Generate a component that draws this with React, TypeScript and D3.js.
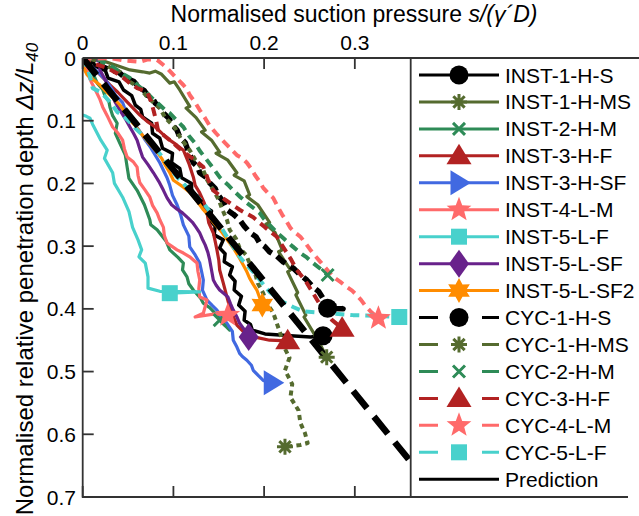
import React from "react";
import * as d3 from "d3";

type Pt = [number, number];

const xTicks = [0, 0.1, 0.2, 0.3];
const xTickLabels = ["0", "0.1", "0.2", "0.3"];
const yTicks = [0, 0.1, 0.2, 0.3, 0.4, 0.5, 0.6, 0.7];
const yTickLabels = ["0", "0.1", "0.2", "0.3", "0.4", "0.5", "0.6", "0.7"];

const inst1HS: Pt[] = [[0,0],[0.010,0.004],[0.014,0.013],[0.025,0.020],[0.028,0.032],[0.040,0.038],[0.045,0.051],[0.054,0.060],[0.058,0.075],[0.064,0.082],[0.066,0.094],[0.076,0.104],[0.077,0.120],[0.085,0.128],[0.088,0.144],[0.099,0.152],[0.098,0.167],[0.107,0.176],[0.109,0.191],[0.120,0.200],[0.120,0.214],[0.129,0.222],[0.131,0.234],[0.142,0.244],[0.140,0.258],[0.146,0.268],[0.145,0.282],[0.155,0.290],[0.151,0.303],[0.157,0.312],[0.156,0.325],[0.165,0.333],[0.162,0.346],[0.168,0.356],[0.167,0.370],[0.175,0.380],[0.172,0.394],[0.179,0.404],[0.178,0.418],[0.185,0.425],[0.187,0.434],[0.201,0.440],[0.229,0.443],[0.251,0.445],[0.265,0.443]];
const inst1HMS: Pt[] = [[0.006,0],[0.019,0.003],[0.036,0.011],[0.052,0.019],[0.066,0.022],[0.074,0.024],[0.080,0.021],[0.087,0.026],[0.096,0.040],[0.101,0.038],[0.107,0.051],[0.118,0.077],[0.114,0.080],[0.125,0.095],[0.135,0.115],[0.131,0.118],[0.142,0.131],[0.151,0.150],[0.147,0.152],[0.160,0.163],[0.170,0.183],[0.167,0.187],[0.178,0.196],[0.184,0.218],[0.181,0.221],[0.193,0.234],[0.206,0.262],[0.202,0.265],[0.212,0.278],[0.220,0.306],[0.216,0.309],[0.229,0.338],[0.226,0.341],[0.237,0.374],[0.235,0.378],[0.246,0.410],[0.244,0.413],[0.254,0.437],[0.258,0.448],[0.262,0.457],[0.269,0.477]];
const inst2HM: Pt[] = [[0,0],[0.005,0.010],[0.008,0.019],[0.013,0.030],[0.016,0.040],[0.022,0.050],[0.025,0.062],[0.029,0.070],[0.030,0.078],[0.033,0.092],[0.038,0.104],[0.036,0.120],[0.041,0.136],[0.047,0.155],[0.049,0.174],[0.051,0.192],[0.060,0.211],[0.068,0.234],[0.074,0.258],[0.075,0.266],[0.082,0.274],[0.092,0.292],[0.096,0.306],[0.105,0.318],[0.111,0.327],[0.110,0.338],[0.115,0.349],[0.117,0.360],[0.122,0.370],[0.130,0.383],[0.133,0.391],[0.140,0.398],[0.144,0.404],[0.150,0.414],[0.155,0.423],[0.162,0.434],[0.151,0.418]];
const inst3HF: Pt[] = [[0,0],[0.007,0.010],[0.014,0.019],[0.022,0.031],[0.030,0.043],[0.039,0.055],[0.047,0.067],[0.055,0.079],[0.063,0.091],[0.071,0.101],[0.080,0.110],[0.088,0.121],[0.096,0.131],[0.104,0.139],[0.111,0.147],[0.117,0.168],[0.122,0.190],[0.124,0.203],[0.129,0.215],[0.134,0.231],[0.137,0.247],[0.139,0.263],[0.144,0.279],[0.146,0.292],[0.148,0.306],[0.150,0.322],[0.151,0.338],[0.155,0.359],[0.159,0.381],[0.162,0.397],[0.166,0.412],[0.170,0.426],[0.179,0.439],[0.190,0.445],[0.206,0.450],[0.226,0.451]];
const inst3HSF: Pt[] = [[0,0],[0.007,0.010],[0.014,0.019],[0.020,0.027],[0.025,0.035],[0.031,0.047],[0.036,0.059],[0.044,0.071],[0.047,0.083],[0.053,0.095],[0.058,0.107],[0.064,0.119],[0.069,0.131],[0.075,0.143],[0.080,0.155],[0.085,0.167],[0.089,0.179],[0.093,0.191],[0.096,0.203],[0.099,0.219],[0.104,0.234],[0.108,0.250],[0.111,0.266],[0.117,0.284],[0.118,0.301],[0.124,0.314],[0.129,0.327],[0.131,0.340],[0.133,0.354],[0.132,0.370],[0.137,0.386],[0.143,0.395],[0.148,0.402],[0.152,0.411],[0.159,0.423],[0.165,0.436],[0.166,0.450],[0.170,0.461],[0.173,0.471],[0.176,0.476],[0.181,0.482],[0.186,0.490],[0.188,0.498],[0.194,0.507],[0.199,0.514],[0.209,0.518]];
const inst4LM: Pt[] = [[0,0],[0.004,0.016],[0.006,0.027],[0.010,0.040],[0.014,0.051],[0.019,0.066],[0.022,0.078],[0.028,0.095],[0.033,0.110],[0.039,0.120],[0.044,0.131],[0.046,0.145],[0.049,0.158],[0.056,0.166],[0.060,0.174],[0.061,0.187],[0.063,0.199],[0.069,0.211],[0.074,0.222],[0.077,0.235],[0.082,0.247],[0.085,0.258],[0.089,0.270],[0.090,0.283],[0.093,0.295],[0.098,0.300],[0.104,0.306],[0.111,0.311],[0.118,0.317],[0.122,0.322],[0.126,0.327],[0.127,0.340],[0.129,0.354],[0.128,0.368],[0.129,0.381],[0.137,0.386],[0.133,0.407],[0.124,0.413],[0.146,0.408],[0.160,0.410]];
const inst5LF: Pt[] = [[0,0.091],[0.004,0.093],[0.008,0.096],[0.011,0.106],[0.016,0.120],[0.020,0.131],[0.027,0.147],[0.024,0.160],[0.033,0.183],[0.035,0.200],[0.044,0.222],[0.051,0.245],[0.055,0.270],[0.061,0.290],[0.065,0.306],[0.062,0.317],[0.069,0.327],[0.072,0.349],[0.072,0.367],[0.085,0.372],[0.129,0.373],[0.096,0.375]];
const inst5LSF: Pt[] = [[0,0],[0.011,0],[0.019,0.006],[0.019,0.019],[0.025,0.035],[0.028,0.047],[0.032,0.059],[0.036,0.071],[0.041,0.083],[0.047,0.097],[0.052,0.110],[0.056,0.120],[0.060,0.131],[0.063,0.145],[0.066,0.158],[0.072,0.170],[0.078,0.183],[0.084,0.197],[0.089,0.211],[0.093,0.223],[0.098,0.234],[0.104,0.241],[0.110,0.247],[0.116,0.255],[0.121,0.262],[0.125,0.270],[0.129,0.279],[0.132,0.289],[0.135,0.298],[0.138,0.310],[0.140,0.322],[0.142,0.338],[0.144,0.354],[0.147,0.362],[0.151,0.370],[0.156,0.376],[0.160,0.381],[0.163,0.392],[0.166,0.402],[0.170,0.413],[0.173,0.423],[0.177,0.431],[0.181,0.439],[0.183,0.445]];
const inst5LSF2: Pt[] = [[0,0],[0.001,0.016],[0.005,0.027],[0.012,0.035],[0.019,0.043],[0.024,0.051],[0.030,0.059],[0.036,0.067],[0.041,0.075],[0.047,0.087],[0.052,0.099],[0.058,0.108],[0.063,0.118],[0.072,0.134],[0.082,0.150],[0.087,0.160],[0.091,0.171],[0.096,0.183],[0.100,0.195],[0.106,0.201],[0.111,0.206],[0.118,0.214],[0.126,0.228],[0.133,0.242],[0.139,0.252],[0.144,0.262],[0.149,0.270],[0.154,0.279],[0.160,0.291],[0.166,0.303],[0.172,0.317],[0.177,0.330],[0.181,0.341],[0.184,0.351],[0.188,0.361],[0.192,0.370],[0.195,0.382],[0.198,0.394]];
const cyc1HS: Pt[] = [[0,0],[0.007,0.005],[0.014,0.006],[0.022,0.014],[0.030,0.019],[0.040,0.023],[0.047,0.032],[0.056,0.037],[0.063,0.048],[0.068,0.052],[0.071,0.059],[0.077,0.064],[0.080,0.072],[0.086,0.079],[0.089,0.088],[0.095,0.096],[0.099,0.107],[0.104,0.115],[0.107,0.126],[0.113,0.135],[0.116,0.147],[0.119,0.157],[0.122,0.167],[0.127,0.174],[0.129,0.183],[0.136,0.190],[0.140,0.199],[0.146,0.208],[0.149,0.218],[0.155,0.229],[0.159,0.242],[0.166,0.249],[0.173,0.258],[0.178,0.268],[0.184,0.278],[0.191,0.285],[0.195,0.295],[0.201,0.301],[0.206,0.309],[0.214,0.316],[0.221,0.325],[0.232,0.335],[0.240,0.346],[0.247,0.354],[0.254,0.365],[0.260,0.372],[0.264,0.381],[0.268,0.391],[0.287,0.400],[0.270,0.399]];
const cyc1HMS: Pt[] = [[0,0],[0.010,0.002],[0.019,0.006],[0.030,0.015],[0.041,0.022],[0.050,0.036],[0.063,0.048],[0.071,0.062],[0.085,0.080],[0.091,0.095],[0.102,0.112],[0.108,0.128],[0.118,0.147],[0.124,0.162],[0.133,0.179],[0.137,0.194],[0.144,0.211],[0.150,0.226],[0.154,0.242],[0.159,0.258],[0.162,0.274],[0.169,0.288],[0.173,0.303],[0.180,0.314],[0.184,0.327],[0.190,0.343],[0.193,0.359],[0.199,0.375],[0.203,0.391],[0.210,0.406],[0.214,0.423],[0.218,0.440],[0.221,0.458],[0.228,0.478],[0.223,0.498],[0.231,0.520],[0.229,0.541],[0.238,0.562],[0.240,0.582],[0.245,0.598],[0.248,0.614],[0.240,0.617],[0.223,0.620]];
const cyc2HM: Pt[] = [[0,0],[0.010,0.003],[0.019,0.003],[0.026,0.010],[0.033,0.014],[0.043,0.024],[0.052,0.032],[0.062,0.045],[0.071,0.056],[0.078,0.066],[0.085,0.075],[0.091,0.083],[0.096,0.088],[0.104,0.100],[0.111,0.110],[0.117,0.124],[0.124,0.136],[0.129,0.148],[0.135,0.159],[0.143,0.174],[0.151,0.190],[0.160,0.202],[0.166,0.211],[0.174,0.222],[0.181,0.231],[0.189,0.240],[0.195,0.247],[0.200,0.257],[0.206,0.266],[0.214,0.278],[0.221,0.287],[0.231,0.300],[0.240,0.311],[0.247,0.318],[0.254,0.327],[0.262,0.336],[0.270,0.346]];
const cyc3HF: Pt[] = [[0,0],[0.008,0.008],[0.016,0.011],[0.027,0.016],[0.041,0.027],[0.050,0.038],[0.060,0.048],[0.071,0.054],[0.075,0.068],[0.078,0.083],[0.081,0.100],[0.083,0.115],[0.090,0.124],[0.096,0.131],[0.104,0.141],[0.111,0.150],[0.124,0.163],[0.133,0.174],[0.138,0.193],[0.144,0.211],[0.157,0.226],[0.173,0.242],[0.188,0.254],[0.201,0.270],[0.214,0.285],[0.223,0.306],[0.230,0.322],[0.236,0.338],[0.245,0.354],[0.254,0.375],[0.264,0.399],[0.275,0.418],[0.286,0.431]];
const cyc4LM: Pt[] = [[0,0],[0.015,0.001],[0.030,0],[0.046,0.004],[0.063,0.006],[0.072,0.002],[0.082,0.003],[0.088,0.010],[0.093,0.016],[0.102,0.030],[0.111,0.043],[0.115,0.050],[0.118,0.059],[0.124,0.071],[0.129,0.083],[0.135,0.096],[0.140,0.108],[0.147,0.120],[0.154,0.131],[0.162,0.143],[0.170,0.155],[0.176,0.160],[0.181,0.167],[0.186,0.177],[0.190,0.187],[0.195,0.197],[0.199,0.207],[0.204,0.215],[0.210,0.223],[0.215,0.237],[0.220,0.250],[0.225,0.261],[0.229,0.271],[0.234,0.278],[0.240,0.285],[0.246,0.296],[0.251,0.306],[0.256,0.315],[0.262,0.325],[0.269,0.337],[0.276,0.349],[0.284,0.357],[0.291,0.365],[0.297,0.371],[0.302,0.378],[0.307,0.386],[0.311,0.394],[0.318,0.405],[0.326,0.415]];
const cyc5LF: Pt[] = [[0,0],[0.003,0.010],[0.006,0.019],[0.009,0.035],[0.011,0.048],[0.019,0.054],[0.025,0.062],[0.030,0.070],[0.038,0.086],[0.044,0.091],[0.051,0.101],[0.058,0.112],[0.066,0.123],[0.074,0.134],[0.082,0.147],[0.089,0.160],[0.096,0.175],[0.104,0.190],[0.111,0.200],[0.118,0.211],[0.126,0.221],[0.133,0.231],[0.140,0.245],[0.146,0.258],[0.153,0.271],[0.159,0.285],[0.166,0.301],[0.173,0.317],[0.180,0.329],[0.188,0.341],[0.197,0.357],[0.206,0.373],[0.213,0.381],[0.221,0.389],[0.232,0.397],[0.243,0.404],[0.273,0.407],[0.298,0.410],[0.322,0.411],[0.349,0.413]];
const prediction: Pt[] = [[0, 0], [0.3616, 0.644]];

const seriesNames = ["INST-1-H-S","INST-1-H-MS","INST-2-H-M","INST-3-H-F","INST-3-H-SF","INST-4-L-M","INST-5-L-F","INST-5-L-SF","INST-5-L-SF2","CYC-1-H-S","CYC-1-H-MS","CYC-2-H-M","CYC-3-H-F","CYC-4-L-M","CYC-5-L-F"];
const seriesData = [inst1HS, inst1HMS, inst2HM, inst3HF, inst3HSF, inst4LM, inst5LF, inst5LSF, inst5LSF2, cyc1HS, cyc1HMS, cyc2HM, cyc3HF, cyc4LM, cyc5LF];
const seriesColors = ["#000000","#556B2F","#2E8B57","#B22222","#4169E1","#FF6A6A","#48D1CC","#68228B","#FF8C00","#000000","#556B2F","#2E8B57","#B22222","#FF6A6A","#48D1CC"];
const seriesMarkers = ["circle","asterisk","x","triUp","triRight","star","square","diamond","hexagram","circle","asterisk","x","triUp","star","square"];
const seriesDashed = [false,false,false,false,false,false,false,false,false,true,true,true,true,true,true];

const W = 639, H = 516;
const L = 82.7, R = 410.7, T = 58, B = 497;

function starPath(n: number, ro: number, ri: number, rot: number) {
  const pts: Pt[] = [];
  for (let i = 0; i < 2 * n; i++) {
    const a = rot + (i * Math.PI) / n;
    const r = i % 2 === 0 ? ro : ri;
    pts.push([r * Math.cos(a), r * Math.sin(a)]);
  }
  return d3.line()(pts) + "Z";
}

function Marker({ kind, color, x, y }: { kind: string; color: string; x: number; y: number }) {
  const t = `translate(${x},${y})`;
  switch (kind) {
    case "circle":
      return <circle cx={x} cy={y} r={9.5} fill={color} />;
    case "asterisk": {
      const r = 8;
      const segs = [0, 45, 90, 135].map((a) => {
        const rad = (a * Math.PI) / 180;
        return `M${-r * Math.cos(rad)},${-r * Math.sin(rad)}L${r * Math.cos(rad)},${r * Math.sin(rad)}`;
      });
      return <path transform={t} d={segs.join("")} stroke={color} strokeWidth={3} fill="none" />;
    }
    case "x": {
      const r = 6;
      return <path transform={t} d={`M${-r},${-r}L${r},${r}M${-r},${r}L${r},${-r}`} stroke={color} strokeWidth={3} fill="none" />;
    }
    case "triUp":
      return <path transform={t} d="M0,-12L12.5,8.5L-12.5,8.5Z" fill={color} />;
    case "triRight":
      return <path transform={t} d="M12,0L-8.5,-12.5L-8.5,12.5Z" fill={color} />;
    case "star":
      return <path transform={t} d={starPath(5, 13, 5.5, -Math.PI / 2)} fill={color} />;
    case "square":
      return <rect x={x - 8} y={y - 8} width={16} height={16} fill={color} />;
    case "diamond":
      return <path transform={t} d="M0,-14L10,0L0,14L-10,0Z" fill={color} />;
    case "hexagram":
      return <path transform={t} d={starPath(6, 12.5, 7, -Math.PI / 2)} fill={color} />;
  }
  return null;
}

export default function App() {
  const x = d3.scaleLinear().domain([0, 0.3616]).range([L, R]);
  const y = d3.scaleLinear().domain([0, 0.7]).range([T, B]);
  const line = d3.line<Pt>().x((d) => x(d[0])).y((d) => y(d[1]));
  const font = "'Liberation Sans', Arial, Helvetica, sans-serif";
  const axisColor = "#333333";
  const legendY0 = 75;
  const legendStep = 26.95;
  const order = [0,1,2,3,4,5,6,7,8,9,10,11,12,13,14];

  const widthOf = (i: number) => (i === 9 ? 5.5 : i === 0 ? 3.5 : seriesDashed[i] ? 4 : 3.2);
  const dashOf = (i: number) => (!seriesDashed[i] ? undefined : i === 9 ? "11,6" : i === 10 ? "5,4" : "9,6");

  return (
    <svg width={W} height={H} style={{ position: "absolute", left: 0, top: 0, background: "#fff" }} fontFamily={font}>
      <defs>
        <clipPath id="plotclip">
          <rect x={L} y={T} width={R - L} height={B - T} />
        </clipPath>
      </defs>
      <rect x={0} y={0} width={W} height={H} fill="#fff" />
      <g clipPath="url(#plotclip)">
        {order.map((i) => (
          <path key={"l" + i} d={line(seriesData[i]) || ""} fill="none" stroke={seriesColors[i]}
            strokeWidth={widthOf(i)} strokeDasharray={dashOf(i)} strokeLinejoin="round" />
        ))}
        <path d={line(prediction) || ""} fill="none" stroke="#000" strokeWidth={6.5} strokeDasharray="22,11" />
      </g>
      {order.map((i) => {
        const last = seriesData[i][seriesData[i].length - 1];
        return <Marker key={"m" + i} kind={seriesMarkers[i]} color={seriesColors[i]} x={x(last[0])} y={y(last[1])} />;
      })}
      <path d={`M${L},${T}L${W},${T}M${L},${T}L${L},${B}L628,${B}M${R},${T}L${R},${B}`} stroke={axisColor} strokeWidth={1.8} fill="none" />
      {xTicks.map((t, i) => (
        <g key={"xt" + i}>
          <line x1={x(t)} x2={x(t)} y1={T} y2={T + 11} stroke={axisColor} strokeWidth={1.8} />
          <line x1={x(t)} x2={x(t)} y1={B} y2={B - 11} stroke={axisColor} strokeWidth={1.8} />
          <text x={x(t)} y={50} fontSize={21} textAnchor="middle">{xTickLabels[i]}</text>
        </g>
      ))}
      {yTicks.map((t, i) => (
        <g key={"yt" + i}>
          <line x1={L} x2={L + 11} y1={y(t)} y2={y(t)} stroke={axisColor} strokeWidth={1.8} />
          <text x={76} y={y(t) + 7.5} fontSize={21} textAnchor="end">{yTickLabels[i]}</text>
        </g>
      ))}
      <text x={354} y={22} fontSize={23} textAnchor="middle">
        Normalised suction pressure <tspan fontStyle="italic">s/(γ´D)</tspan>
      </text>
      <text transform="translate(33,279) rotate(-90)" fontSize={24} textAnchor="middle">
        Normalised relative penetration depth  <tspan fontStyle="italic">Δz/L</tspan>
        <tspan fontStyle="italic" fontSize={17} dy={5}>40</tspan>
      </text>
      {seriesNames.map((name, i) => {
        const cy = legendY0 + i * legendStep;
        return (
          <g key={"lg" + i}>
            {seriesDashed[i] ? (
              <path d={`M419,${cy}L438,${cy}M482,${cy}L499,${cy}`} stroke={seriesColors[i]} strokeWidth={3} />
            ) : (
              <line x1={419} x2={499} y1={cy} y2={cy} stroke={seriesColors[i]} strokeWidth={3} />
            )}
            <Marker kind={seriesMarkers[i]} color={seriesColors[i]} x={459} y={cy} />
            <text x={505} y={cy + 7.5} fontSize={21}>{name}</text>
          </g>
        );
      })}
      <line x1={419} x2={499} y1={legendY0 + 15 * legendStep} y2={legendY0 + 15 * legendStep} stroke="#000" strokeWidth={3} />
      <text x={505} y={legendY0 + 15 * legendStep + 7.5} fontSize={21}>Prediction</text>
    </svg>
  );
}
